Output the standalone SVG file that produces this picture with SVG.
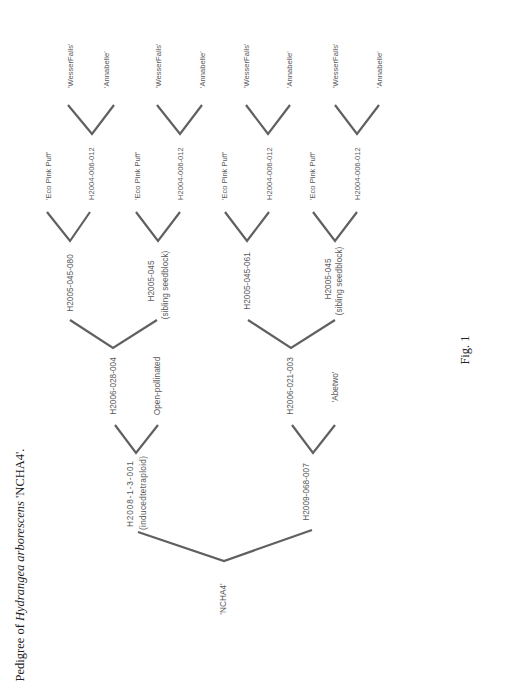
<svg xmlns="http://www.w3.org/2000/svg" width="514" height="700" viewBox="0 0 514 700">
<style>
.t{font-family:"Liberation Sans",Arial,sans-serif;font-size:7.6px;fill:#5a5a5a;}
.m{font-size:8.3px;text-anchor:middle;}
.s{text-anchor:start;}
.c{fill:none;stroke:#606060;stroke-width:2.2;stroke-linejoin:miter;}
.cap{font-family:"Liberation Serif","Times New Roman",serif;font-size:12.5px;fill:#222;}
</style>
<rect width="514" height="700" fill="#fff"/>
<g id="connectors">
<path class="c" d="M68,105 L92,134 L114,105"/>
<path class="c" d="M157,105 L180,134 L202,105"/>
<path class="c" d="M246,105 L268,134 L290,105"/>
<path class="c" d="M335,105 L357,134 L379,105"/>
<path class="c" d="M47,212 L70,241 L90,212"/>
<path class="c" d="M136,212 L158,241 L180,212"/>
<path class="c" d="M225,212 L247,241 L269,212"/>
<path class="c" d="M313,212 L335,241 L357,212"/>
<path class="c" d="M70,320 L113,348 L157,320"/>
<path class="c" d="M248,320 L291,348 L335,320"/>
<path class="c" d="M115,425 L136,453 L158,425"/>
<path class="c" d="M292,425 L313,453 L335,425"/>
<path class="c" d="M138,532 L224,561 L312,530"/>
</g>
<g id="n-wf1"><text class="t s" transform="translate(72.8,88) rotate(-90)">'WesserFalls'</text></g>
<g id="n-an1"><text class="t s" transform="translate(108.8,88) rotate(-90)">'Annabelle'</text></g>
<g id="n-wf2"><text class="t s" transform="translate(160.8,88) rotate(-90)">'WesserFalls'</text></g>
<g id="n-an2"><text class="t s" transform="translate(204.8,88) rotate(-90)">'Annabelle'</text></g>
<g id="n-wf3"><text class="t s" transform="translate(248.8,88) rotate(-90)">'WesserFalls'</text></g>
<g id="n-an3"><text class="t s" transform="translate(291.8,88) rotate(-90)">'Annabelle'</text></g>
<g id="n-wf4"><text class="t s" transform="translate(337.8,88) rotate(-90)">'WesserFalls'</text></g>
<g id="n-an4"><text class="t s" transform="translate(381.8,88) rotate(-90)">'Annabelle'</text></g>
<g id="n-ep1"><text class="t s" transform="translate(50.8,200) rotate(-90)">'Eco Pink Puff'</text></g>
<g id="n-h04a"><text class="t s" transform="translate(93.8,200) rotate(-90)">H2004-006-012</text></g>
<g id="n-ep2"><text class="t s" transform="translate(139.8,200) rotate(-90)">'Eco Pink Puff'</text></g>
<g id="n-h04b"><text class="t s" transform="translate(182.8,200) rotate(-90)">H2004-006-012</text></g>
<g id="n-ep3"><text class="t s" transform="translate(226.8,200) rotate(-90)">'Eco Pink Puff'</text></g>
<g id="n-h04c"><text class="t s" transform="translate(271.8,200) rotate(-90)">H2004-006-012</text></g>
<g id="n-ep4"><text class="t s" transform="translate(314.8,200) rotate(-90)">'Eco Pink Puff'</text></g>
<g id="n-h04d"><text class="t s" transform="translate(359.8,200) rotate(-90)">H2004-006-012</text></g>
<g id="n-h05080"><text class="t m" transform="translate(73,283) rotate(-90)">H2005-045-080</text></g>
<g id="n-h05sib1"><text class="t m" transform="translate(154,281) rotate(-90)">H2005-045</text><text class="t m" transform="translate(168,285) rotate(-90)">(sibling seedblock)</text></g>
<g id="n-h05061"><text class="t m" transform="translate(250,281) rotate(-90)">H2005-045-061</text></g>
<g id="n-h05sib2"><text class="t m" transform="translate(331,279) rotate(-90)">H2005-045</text><text class="t m" transform="translate(342,281) rotate(-90)">(sibling seedblock)</text></g>
<g id="n-h06028"><text class="t m" transform="translate(116,386) rotate(-90)">H2006-028-004</text></g>
<g id="n-op"><text class="t m" transform="translate(160,386) rotate(-90)">Open-pollinated</text></g>
<g id="n-h06021"><text class="t m" transform="translate(293,386) rotate(-90)">H2006-021-003</text></g>
<g id="n-abetwo"><text class="t m" transform="translate(338,387) rotate(-90)">'Abetwo'</text></g>
<g id="n-h08"><text class="t m" transform="translate(133,494) rotate(-90)" textLength="66" lengthAdjust="spacing">H2008-1-3-001</text><text class="t m" transform="translate(146,493) rotate(-90)" textLength="74" lengthAdjust="spacing">(inducedtetraploid)</text></g>
<g id="n-h09"><text class="t m" transform="translate(309,492) rotate(-90)">H2009-068-007</text></g>
<g id="n-ncha4"><text class="t m" transform="translate(226,599) rotate(-90)">'NCHA4'</text></g>
<text class="cap" transform="translate(469,350) rotate(-90)" text-anchor="middle" font-size="11">Fig. 1</text>
<text class="cap" transform="translate(24,565) rotate(-90)" text-anchor="middle">Pedigree of <tspan font-style="italic">Hydrangea arborescens</tspan> 'NCHA4'.</text>
</svg>
